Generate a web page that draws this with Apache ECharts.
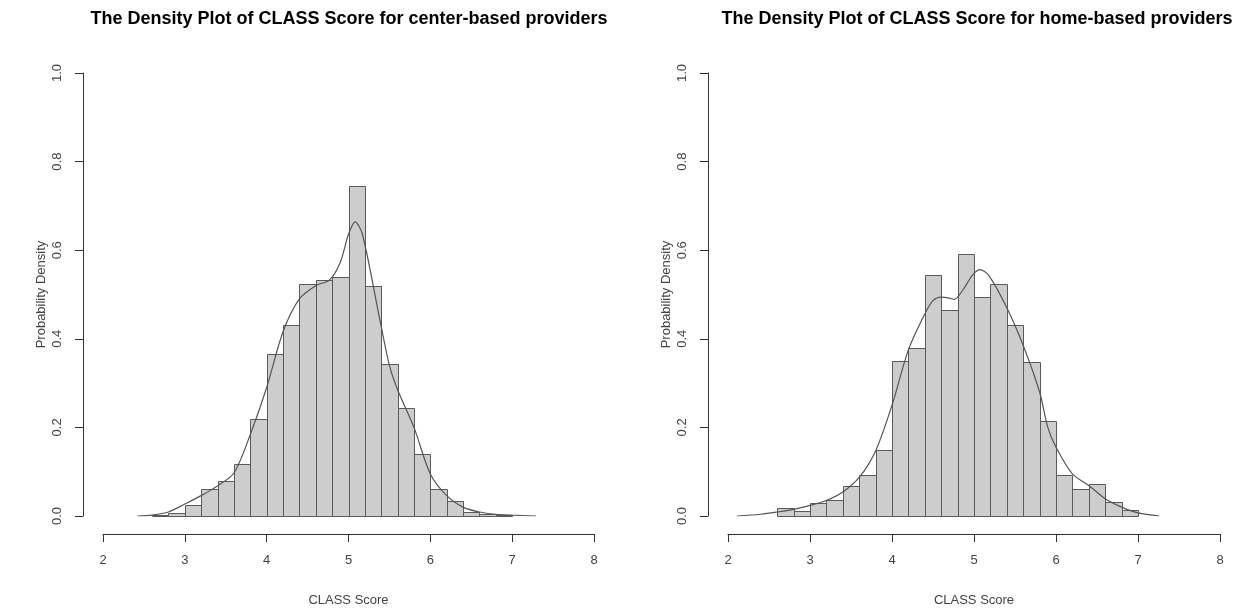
<!DOCTYPE html>
<html>
<head>
<meta charset="utf-8">
<script src="https://cdn.jsdelivr.net/npm/echarts@6/dist/echarts.min.js"></script>
<style>html,body{margin:0;padding:0;background:#fff}#c{width:1243px;height:612px}</style>
</head>
<body>
<div id="c"></div>
<script>
// ---- data ----
const titles = [
  'The Density Plot of CLASS Score for center-based providers',
  'The Density Plot of CLASS Score for home-based providers'
];
const xTicks = [2, 3, 4, 5, 6, 7, 8];
const yTicks = [0, 0.2, 0.4, 0.6, 0.8, 1.0];
const binStarts = [2.6, 2.8, 3.0, 3.2, 3.4, 3.6, 3.8, 4.0, 4.2, 4.4, 4.6, 4.8, 5.0, 5.2, 5.4, 5.6, 5.8, 6.0, 6.2, 6.4, 6.6, 6.8];
const binWidth = 0.2;
const centerHist = [0.002, 0.007, 0.025, 0.062, 0.079, 0.118, 0.220, 0.366, 0.432, 0.524, 0.532, 0.539, 0.744, 0.520, 0.344, 0.244, 0.141, 0.060, 0.034, 0.009, 0.005, 0.003];
const homeHist = [0.019, 0.012, 0.030, 0.036, 0.067, 0.092, 0.148, 0.349, 0.379, 0.543, 0.465, 0.592, 0.494, 0.524, 0.432, 0.348, 0.214, 0.092, 0.062, 0.073, 0.031, 0.013];
const centerDensX = [2.42, 2.6, 2.8, 3.0, 3.2, 3.4, 3.6, 3.8, 4.0, 4.2, 4.4, 4.6, 4.77, 4.9, 5.0, 5.08, 5.17, 5.38, 5.5, 5.6, 5.8, 6.0, 6.2, 6.4, 6.6, 6.8, 7.0, 7.29];
const centerDensY = [0, 0.002, 0.009, 0.027, 0.046, 0.068, 0.097, 0.184, 0.29, 0.416, 0.49, 0.52, 0.533, 0.573, 0.636, 0.664, 0.636, 0.446, 0.34, 0.285, 0.2, 0.095, 0.046, 0.02, 0.009, 0.004, 0.002, 0];
const homeDensX = [2.11, 2.4, 2.6, 2.8, 3.0, 3.2, 3.4, 3.6, 3.8, 4.0, 4.2, 4.4, 4.5, 4.6, 4.7, 4.76, 4.86, 4.98, 5.07, 5.18, 5.4, 5.6, 5.8, 5.9, 6.0, 6.2, 6.4, 6.6, 6.8, 7.0, 7.26];
const homeDensY = [0, 0.004, 0.009, 0.015, 0.024, 0.035, 0.054, 0.087, 0.147, 0.25, 0.375, 0.456, 0.486, 0.494, 0.492, 0.489, 0.509, 0.543, 0.556, 0.543, 0.47, 0.385, 0.28, 0.2, 0.155, 0.095, 0.069, 0.039, 0.02, 0.007, 0];

// ---- build ----
const FONT = '"Liberation Sans", Arial, sans-serif';
const AX = '#333';
const TXT = '#444';
function histData(vals) { return binStarts.map((s, i) => [s, +(s + binWidth).toFixed(2), vals[i]]); }
function densData(xs, ys) { return xs.map((x, i) => [x, ys[i]]); }
function renderBar(params, api) {
  const a = api.coord([api.value(0), api.value(2)]);
  const b = api.coord([api.value(1), 0]);
  const x0 = Math.round(a[0]) + 0.5, x1 = Math.round(b[0]) + 0.5;
  const y0 = Math.round(a[1]) + 0.5, y1 = Math.round(b[1]) + 0.5;
  return { type: 'rect', shape: { x: x0, y: y0, width: x1 - x0, height: y1 - y0 },
    style: { fill: '#cdcdcd', stroke: '#5a5a5a', lineWidth: 1 } };
}
const grids = [
  { left: 103, width: 491, top: 73, height: 446 },
  { left: 728, width: 492, top: 73, height: 446 }
];
function xAxis(i) {
  return { type: 'value', gridIndex: i, min: 2, max: 8, interval: 1, offset: 18,
    name: 'CLASS Score', nameLocation: 'middle', nameGap: 60,
    nameTextStyle: { color: TXT, fontSize: 13, fontFamily: FONT },
    axisLine: { show: true, onZero: false, lineStyle: { color: AX, width: 1 } },
    axisTick: { show: true, length: 8, lineStyle: { color: AX } },
    axisLabel: { color: TXT, fontSize: 13, fontFamily: FONT, margin: 20 },
    splitLine: { show: false } };
}
function yAxis(i) {
  return { type: 'value', gridIndex: i, min: 0, max: 1, interval: 0.2, offset: 20,
    name: 'Probability Density', nameLocation: 'middle', nameGap: 35, nameRotate: 90,
    nameTextStyle: { color: TXT, fontSize: 13, fontFamily: FONT },
    axisLine: { show: true, onZero: false, lineStyle: { color: AX, width: 1 } },
    axisTick: { show: true, length: 8, lineStyle: { color: AX } },
    axisLabel: { color: TXT, fontSize: 13, fontFamily: FONT, margin: 19, rotate: 90,
      formatter: v => v.toFixed(1) },
    splitLine: { show: false } };
}
const option = {
  animation: false,
  backgroundColor: '#fff',
  title: [
    { text: titles[0], left: 349, top: 10, textAlign: 'center', padding: 0,
      textStyle: { fontSize: 18, fontWeight: 'bold', color: '#000', fontFamily: FONT } },
    { text: titles[1], left: 977, top: 10, textAlign: 'center', padding: 0,
      textStyle: { fontSize: 18, fontWeight: 'bold', color: '#000', fontFamily: FONT } }
  ],
  grid: grids,
  xAxis: [xAxis(0), xAxis(1)],
  yAxis: [yAxis(0), yAxis(1)],
  series: [
    { type: 'custom', xAxisIndex: 0, yAxisIndex: 0, renderItem: renderBar, data: histData(centerHist), encode: { x: [0, 1], y: 2 } },
    { type: 'line', xAxisIndex: 0, yAxisIndex: 0, data: densData(centerDensX, centerDensY), smooth: 0.3, showSymbol: false,
      lineStyle: { color: '#555', width: 1.2 } },
    { type: 'custom', xAxisIndex: 1, yAxisIndex: 1, renderItem: renderBar, data: histData(homeHist), encode: { x: [0, 1], y: 2 } },
    { type: 'line', xAxisIndex: 1, yAxisIndex: 1, data: densData(homeDensX, homeDensY), smooth: 0.3, showSymbol: false,
      lineStyle: { color: '#555', width: 1.2 } }
  ]
};
const chart = echarts.init(document.getElementById('c'), null, { renderer: 'canvas' });
chart.setOption(option);
</script>
</body>
</html>
